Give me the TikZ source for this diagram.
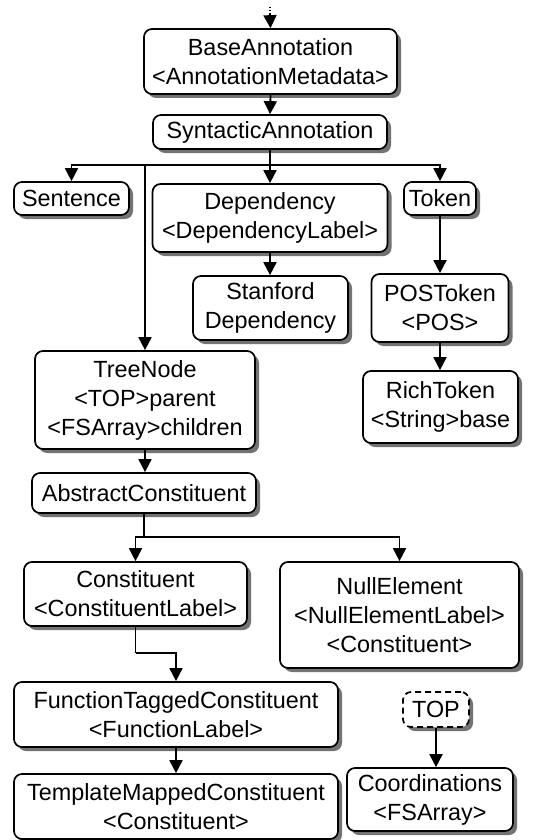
\documentclass[tikz,border=0pt]{standalone}
\usepackage{fontspec}
\setmainfont{Liberation Sans}
\usetikzlibrary{arrows.meta,shadows}
\begin{document}
\begin{tikzpicture}[x=1pt,y=-1pt,
  box/.style={draw=black, line width=1.7pt, rounded corners=8pt, fill=white,
    align=center, inner sep=0pt, font=\fontsize{23.4}{29}\selectfont,
    drop shadow={shadow xshift=4pt, shadow yshift=-4pt, fill=black!55, opacity=1}},
  dbox/.style={box, dashed, dash pattern=on 6pt off 4pt},
  arr/.style={line width=1.8pt, -{Triangle[width=13pt,length=13pt]}},
  ln/.style={line width=1.8pt}]
\useasboundingbox (0,0) rectangle (546,840);
\fill[white] (0,0) rectangle (546,840);

\node[box, minimum width=253pt, minimum height=65pt] (base) at (270.5,61.5) {BaseAnnotation\\<AnnotationMetadata>};
\node[box, minimum width=234pt, minimum height=34pt] (synt) at (270,132) {SyntacticAnnotation};
\node[box, minimum width=115pt, minimum height=33pt] (sent) at (71.5,198.5) {Sentence};
\node[box, minimum width=235pt, minimum height=68pt] (dep) at (270,218) {Dependency\\<DependencyLabel>};
\node[box, minimum width=72pt, minimum height=33pt] (token) at (440,198.5) {Token};
\node[box, minimum width=155pt, minimum height=64pt] (stan) at (270.5,308) {Stanford\\Dependency};
\node[box, minimum width=137pt, minimum height=68pt] (pos) at (440,308) {POSToken\\<POS>};
\node[box, minimum width=155pt, minimum height=72pt] (rich) at (440.5,407) {RichToken\\<String>base};
\node[box, minimum width=220pt, minimum height=98pt] (tree) at (145,400) {TreeNode\\<TOP>parent\\<FSArray>children};
\node[box, minimum width=224pt, minimum height=40pt] (abs) at (144,493) {AbstractConstituent};
\node[box, minimum width=223pt, minimum height=64pt] (cons) at (135.5,594) {Constituent\\<ConstituentLabel>};
\node[box, minimum width=239pt, minimum height=106pt] (null) at (399.5,615) {NullElement\\<NullElementLabel>\\<Constituent>};
\node[box, minimum width=324pt, minimum height=65pt] (ftc) at (176,714.5) {FunctionTaggedConstituent\\<FunctionLabel>};
\node[box, minimum width=324pt, minimum height=65pt] (tmc) at (176,806.5) {TemplateMappedConstituent\\<Constituent>};
\node[dbox, minimum width=66pt, minimum height=35pt] (top) at (436,709.5) {TOP};
\node[box, minimum width=166pt, minimum height=63pt] (coord) at (430,799.5) {Coordinations\\<FSArray>};

\coordinate (root) at (270,7);
\coordinate (rootm) at (270,15);
\coordinate (hub) at (270,165);
\coordinate (hub2) at (144,537);
\coordinate (bend) at (135.5,653);

\draw[line width=1.2pt, dotted] (root) -- (rootm);
\draw[arr] (rootm) -- (base.north);
\draw[arr] (base.south) -- (synt.north);
\draw[ln] (synt.south) -- (hub);
\draw[arr] (hub) -- (dep.north);
\draw[arr] (hub) -| (sent.north);
\draw[arr] (hub) -| (token.north);
\draw[arr] (hub) -| (tree.north);
\draw[arr] (dep.south) -- (dep.south |- stan.north);
\draw[arr] (token.south) -- (pos.north);
\draw[arr] (pos.south) -- (pos.south |- rich.north);
\draw[arr] (tree.south) -- (tree.south |- abs.north);
\draw[ln] (abs.south) -- (hub2);
\draw[arr] (hub2) -| (cons.north);
\draw[arr] (hub2) -| (null.north);
\draw[ln] (cons.south) -- (bend);
\draw[arr] (bend) -| (ftc.north);
\draw[arr] (ftc.south) -- (tmc.north);
\draw[arr] (top.south) -- (top.south |- coord.north);
\end{tikzpicture}
\end{document}
